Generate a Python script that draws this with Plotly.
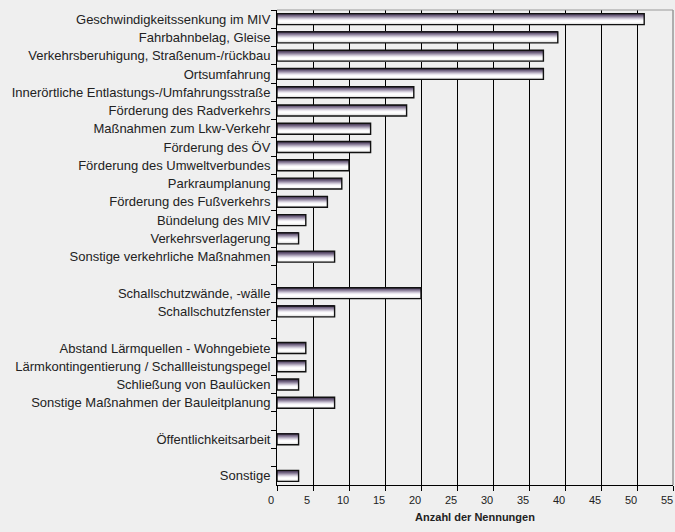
import plotly.graph_objects as go

categories = [
    "Geschwindigkeitssenkung im MIV",
    "Fahrbahnbelag, Gleise",
    "Verkehrsberuhigung, Straßenum-/rückbau",
    "Ortsumfahrung",
    "Innerörtliche Entlastungs-/Umfahrungsstraße",
    "Förderung des Radverkehrs",
    "Maßnahmen zum Lkw-Verkehr",
    "Förderung des ÖV",
    "Förderung des Umweltverbundes",
    "Parkraumplanung",
    "Förderung des Fußverkehrs",
    "Bündelung des MIV",
    "Verkehrsverlagerung",
    "Sonstige verkehrliche Maßnahmen",
    " ",
    "Schallschutzwände, -wälle",
    "Schallschutzfenster",
    "  ",
    "Abstand Lärmquellen - Wohngebiete",
    "Lärmkontingentierung / Schallleistungspegel",
    "Schließung von Baulücken",
    "Sonstige Maßnahmen der Bauleitplanung",
    "   ",
    "Öffentlichkeitsarbeit",
    "    ",
    "Sonstige",
]
values = [51, 39, 37, 37, 19, 18, 13, 13, 10, 9, 7, 4, 3, 8,
          None, 20, 8, None, 4, 4, 3, 8, None, 3, None, 3]
x_ticks = [0, 5, 10, 15, 20, 25, 30, 35, 40, 45, 50, 55]

gradient = ["#3a2d46", "#554763", "#706380", "#8f839d", "#b0a7bb",
            "#d0cad8", "#ebe8ef", "#fbfafc", "#ffffff", "#f8f8f8", "#e8e8e8"]
bar_w = 0.6
n = len(gradient)
step = bar_w / n

fig = go.Figure()
for i, c in enumerate(gradient):
    fig.add_trace(go.Bar(
        x=values, y=categories, orientation="h",
        width=step * 1.15, offset=-bar_w / 2 + i * step,
        marker=dict(color=c, line=dict(width=0)),
        hoverinfo="skip", showlegend=False,
    ))
fig.add_trace(go.Bar(
    x=values, y=categories, orientation="h",
    width=bar_w, offset=-bar_w / 2,
    marker=dict(color="rgba(0,0,0,0)", line=dict(color="#111111", width=1.4)),
    showlegend=False,
))

fig.update_layout(
    width=675, height=532,
    margin=dict(l=277, r=2, t=10, b=47),
    paper_bgcolor="#efefef", plot_bgcolor="#efefef",
    barmode="overlay",
    font=dict(family="Liberation Sans, Arial, sans-serif", size=12, color="#222222"),
    xaxis=dict(
        range=[0, 55], tickvals=x_ticks, ticktext=[str(t) for t in x_ticks],
        showgrid=True, gridcolor="#000000", gridwidth=1,
        showline=True, linecolor="#000000", linewidth=1,
        ticks="outside", ticklen=5, tickcolor="#000000",
        tickfont=dict(size=11), zeroline=False, automargin=False,
        ticklabeloverflow="allow", ticklabelshift=-6,
        title=dict(text="<b>Anzahl der Nennungen</b>", font=dict(size=11), standoff=8),
    ),
    yaxis=dict(
        type="category", categoryorder="array", categoryarray=categories,
        range=[len(categories) - 0.5, -0.5],
        tickson="boundaries", ticks="outside", ticklen=5, tickcolor="#000000",
        showline=True, linecolor="#000000", linewidth=1,
        showgrid=False, ticklabelstandoff=3, automargin=False,
        tickfont=dict(size=13),
    ),
    shapes=[
        dict(type="line", xref="paper", yref="paper", x0=0, x1=1, y0=1, y1=1,
             line=dict(color="#999999", width=1.2), layer="above"),
        dict(type="line", xref="paper", yref="paper", x0=1, x1=1, y0=0, y1=1,
             line=dict(color="#999999", width=1.5), layer="above"),
    ],
)

fig.write_html(
    "out.html",
    config={"displayModeBar": False},
    post_script="document.body.style.margin='0';document.body.style.overflow='hidden';document.body.style.background='#efefef';",
)
